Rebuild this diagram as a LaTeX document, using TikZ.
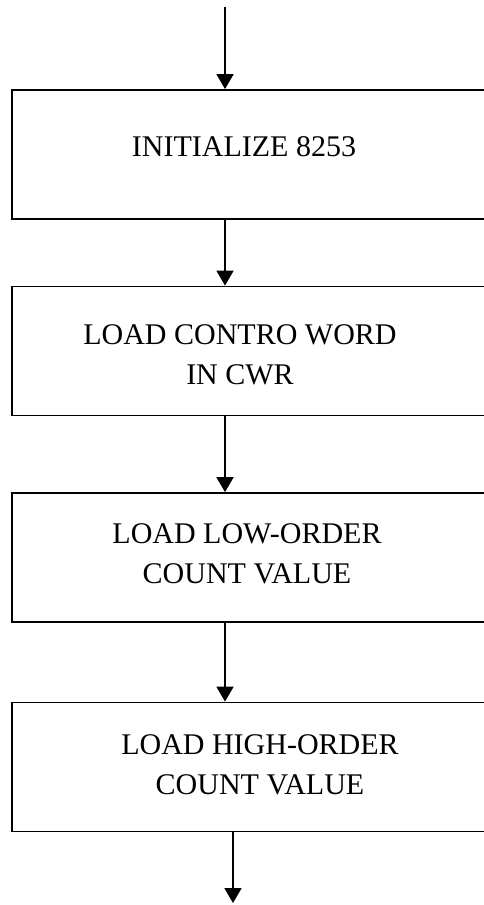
\documentclass[tikz,border=0pt]{standalone}
\usepackage{fontspec}
\setmainfont{Liberation Serif}
\usepackage{tikz}
\usetikzlibrary{arrows.meta}

\begin{document}
\begin{tikzpicture}[
  x=0.5pt, y=-0.5pt,
  arr/.style={-{Triangle[length=7.5pt,width=8.5pt]}, line width=0.9pt},
  stepbox/.style={rectangle, draw, line width=0.9pt, minimum width=244pt,
                  minimum height=64.5pt, inner sep=0pt},
  txt/.style={font=\fontsize{15}{20}\selectfont, align=center, inner sep=0pt},
]
\useasboundingbox (0,0) rectangle (483,905);

%% ===== Boxes =====
\node[stepbox] (b1) at (256,154.5) {};
\node[stepbox] (b2) at (256,351) {};
\node[stepbox] (b3) at (256,557.5) {};
\node[stepbox] (b4) at (256,767) {};

\node[txt] (t1) at (244,147) {INITIALIZE 8253};
\node[txt] (t2) at (240,355) {LOAD CONTRO WORD\\IN CWR};
\node[txt] (t3) at (247,553.5) {LOAD LOW-ORDER\\COUNT VALUE};
\node[txt] (t4) at (260,765) {LOAD HIGH-ORDER\\COUNT VALUE};

%% ===== Arrows =====
\coordinate (in) at (225,7);
\coordinate (out) at (233,903);

\draw[arr] (in) -- (in |- b1.north);
\draw[arr] (b1.south -| in) -- (b2.north -| in);
\draw[arr] (b2.south -| in) -- (b3.north -| in);
\draw[arr] (b3.south -| in) -- (b4.north -| in);
\draw[arr] (out |- b4.south) -- (out);

\end{tikzpicture}
\end{document}
